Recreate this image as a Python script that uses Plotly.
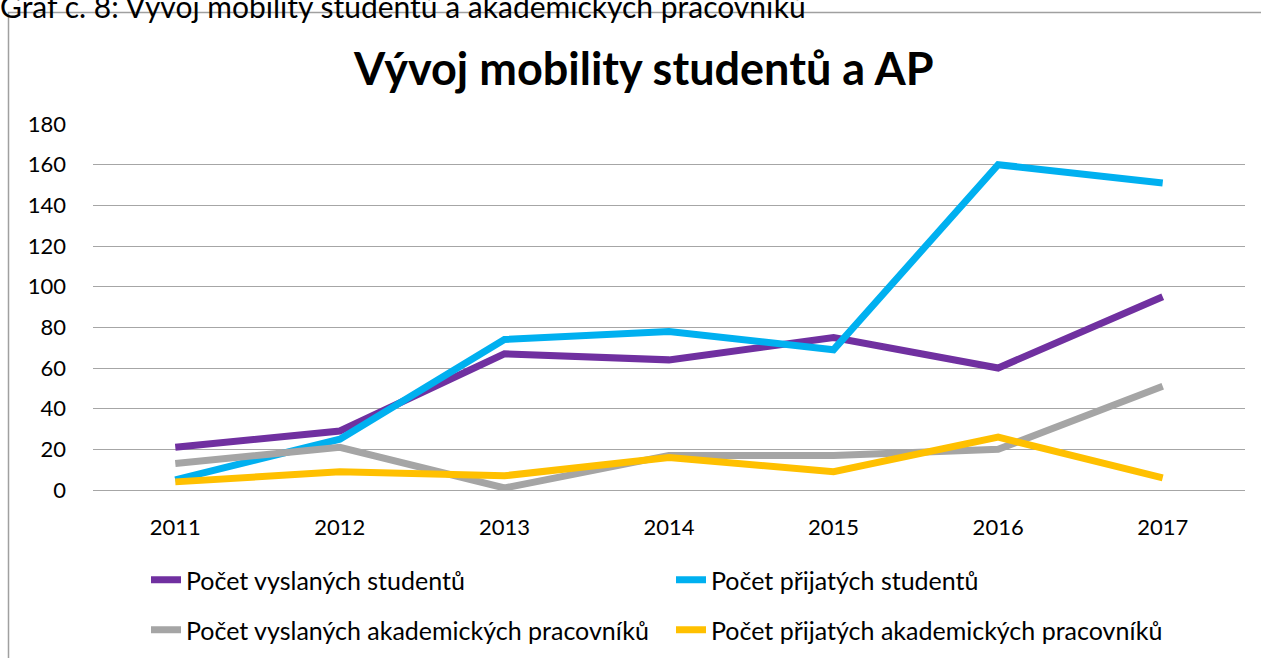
import plotly.graph_objects as go

years = ["2011", "2012", "2013", "2014", "2015", "2016", "2017"]
vyslani_studenti = [21, 29, 67, 64, 75, 60, 95]
prijati_studenti = [5, 25, 74, 78, 69, 160, 151]
vyslani_ap = [13, 21, 1, 17, 17, 20, 51]
prijati_ap = [4, 9, 7, 16, 9, 26, 6]
y_ticks = [0, 20, 40, 60, 80, 100, 120, 140, 160, 180]

W, H = 1261, 658
L, R, T, B = 93, 1245, 124, 490
pw, ph = R - L, B - T

def px(x):
    return (x - L) / pw

def py(y):
    return (B - y) / ph

FONT = "Lato"

series = [
    ("Počet vyslaných studentů", vyslani_studenti, "#7030A0", "legend"),
    ("Počet přijatých studentů", prijati_studenti, "#00B0F0", "legend"),
    ("Počet vyslaných akademických pracovníků", vyslani_ap, "#A5A5A5", "legend2"),
    ("Počet přijatých akademických pracovníků", prijati_ap, "#FFC000", "legend2"),
]

fig = go.Figure()
for name, vals, col, lg in series:
    fig.add_trace(go.Scatter(x=years, y=vals, name=name, mode="lines",
                             line=dict(color=col, width=7), legend=lg))

legend_common = dict(orientation="h", xanchor="left", yanchor="middle",
                     font=dict(family=FONT, size=25, color="#000000"),
                     entrywidth=480, entrywidthmode="pixels",
                     bgcolor="rgba(0,0,0,0)", itemwidth=30)

fig.update_layout(
    width=W, height=H,
    margin=dict(l=L, r=W - R, t=T, b=H - B, autoexpand=False),
    paper_bgcolor="white", plot_bgcolor="white",
    showlegend=True,
    legend=dict(x=px(146), y=py(580), **legend_common),
    legend2=dict(x=px(146), y=py(630), **legend_common),
    xaxis=dict(type="category", range=[-0.5, 6.5], showgrid=False,
               showline=False, ticks="", zeroline=False, ticklabelstandoff=22,
               tickfont=dict(family=FONT, size=22, color="#000000")),
    yaxis=dict(range=[0, 180], tickvals=y_ticks, showgrid=True,
               gridcolor="#A6A6A6", gridwidth=1, zeroline=True,
               zerolinecolor="#A6A6A6", zerolinewidth=1, showline=False,
               ticks="", ticklabelstandoff=26,
               tickfont=dict(family=FONT, size=22, color="#000000")),
    annotations=[
        dict(text="<b>Vývoj mobility studentů a AP</b>", xref="paper", yref="paper",
             x=px(643), y=py(68), xanchor="center", yanchor="middle",
             showarrow=False, font=dict(family=FONT, size=45, color="#000000")),
        dict(text="Graf č. 8: Vývoj mobility studentů a akademických pracovníků",
             xref="paper", yref="paper", x=px(-2), y=py(6), xanchor="left",
             yanchor="middle", showarrow=False,
             font=dict(family=FONT, size=30, color="#000000")),
    ],
    shapes=[
        dict(type="rect", xref="paper", yref="paper", x0=px(8.5), y0=py(700),
             x1=px(1300), y1=py(12.5), line=dict(color="#A0A0A0", width=1.5),
             layer="below"),
    ],
)

fig.write_html("out.html", config={"displayModeBar": False},
               post_script="document.body.style.margin='0';document.body.style.overflow='hidden';")
